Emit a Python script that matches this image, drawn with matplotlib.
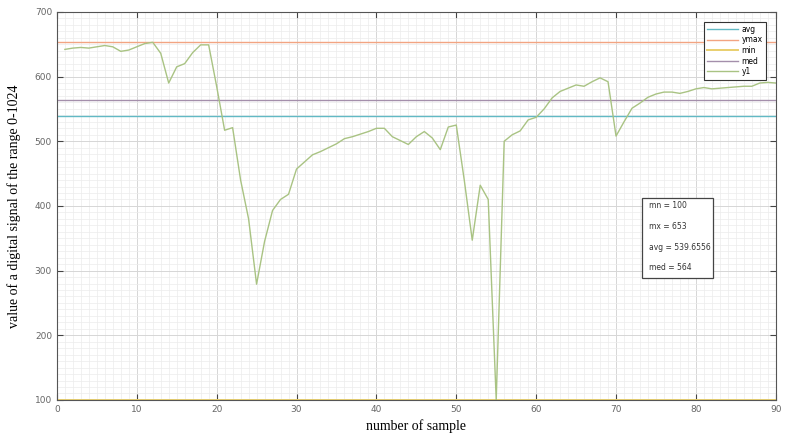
import numpy as np
import matplotlib
matplotlib.use("Agg")
import matplotlib.pyplot as plt
from matplotlib.patches import Rectangle

# sample values (samples 1..90)
amostras = np.arange(1, 91)
y1 = [642, 644, 645, 644, 646, 648, 646, 639, 641, 646,
      651, 653, 636, 590, 615, 620, 637, 649, 649, 585,
      517, 521, 440, 380, 279, 345, 393, 410, 418, 457,
      468, 479, 484, 490, 496, 504, 507, 511, 515, 520,
      520, 507, 501, 495, 507, 515, 505, 487, 522, 525,
      440, 347, 432, 410, 100, 500, 510, 516, 533, 537,
      550, 567, 577, 582, 587, 585, 592, 598, 592, 508,
      530, 551, 559, 568, 573, 576, 576, 574, 577, 581,
      583, 581, 582, 583, 584, 585, 585, 590, 591, 590]

mn = 100
mx = 653
avg = 539.6556
med = 564

fig = plt.figure(figsize=(7.9, 4.4), dpi=100)
ax = fig.add_axes([0.072, 0.091, 0.91, 0.882])

linhas_x = [0, 90]
ax.plot(linhas_x, [avg, avg], color="#62b9c4", lw=1.0, label="avg")
ax.plot(linhas_x, [mx, mx], color="#f2a482", lw=1.0, label="ymax")
ax.plot(linhas_x, [mn, mn], color="#e9cf6e", lw=1.4, label="min")
ax.plot(linhas_x, [med, med], color="#a48fab", lw=1.0, label="med")
ax.plot(amostras, y1, color="#a9c383", lw=1.0, label="y1")

ax.set_xlim(0, 90)
ax.set_ylim(100, 700)
ax.set_xticks(np.arange(0, 91, 10))
ax.set_yticks(np.arange(100, 701, 100))
ax.set_xticks(np.arange(0, 91, 1), minor=True)
ax.set_yticks(np.arange(100, 701, 10), minor=True)
ax.grid(which="major", color="#d6d6d6", lw=0.7)
ax.grid(which="minor", color="#ececec", lw=0.5)
ax.set_axisbelow(True)
ax.tick_params(which="major", direction="in", length=4, top=True, right=True,
               labelsize=6.5, labelcolor="#666666", color="#444444", width=0.8)
ax.tick_params(which="minor", length=0)
for s in ax.spines.values():
    s.set_color("#555555")
    s.set_linewidth(0.8)

ax.set_xlabel("number of sample", family="Liberation Serif", fontsize=10, labelpad=4)
ax.set_ylabel("value of a digital signal of the range 0-1024", family="Liberation Serif",
              fontsize=10, labelpad=10)

leg = ax.legend(loc="upper right", bbox_to_anchor=(0.992, 0.985), fontsize=5.5,
                handlelength=4.0, handletextpad=0.5, labelspacing=0.2,
                borderpad=0.45, fancybox=False, framealpha=1, edgecolor="#333333")
leg.get_frame().set_linewidth(0.8)

# text box with the statistics
fig.patches.append(Rectangle((0.8127, 0.368), 0.09, 0.182, transform=fig.transFigure,
                             facecolor="white", edgecolor="#444444", lw=0.9, zorder=5))
textos = [f"mn = {mn}", f"mx = {mx}", f"avg = {avg}", f"med = {med}"]
for i, t in enumerate(textos):
    fig.text(0.821, 0.532 - i * 0.047, t, fontsize=5.5, color="#333333",
             va="center", ha="left", zorder=6)

fig.savefig("out.png", dpi=100)
